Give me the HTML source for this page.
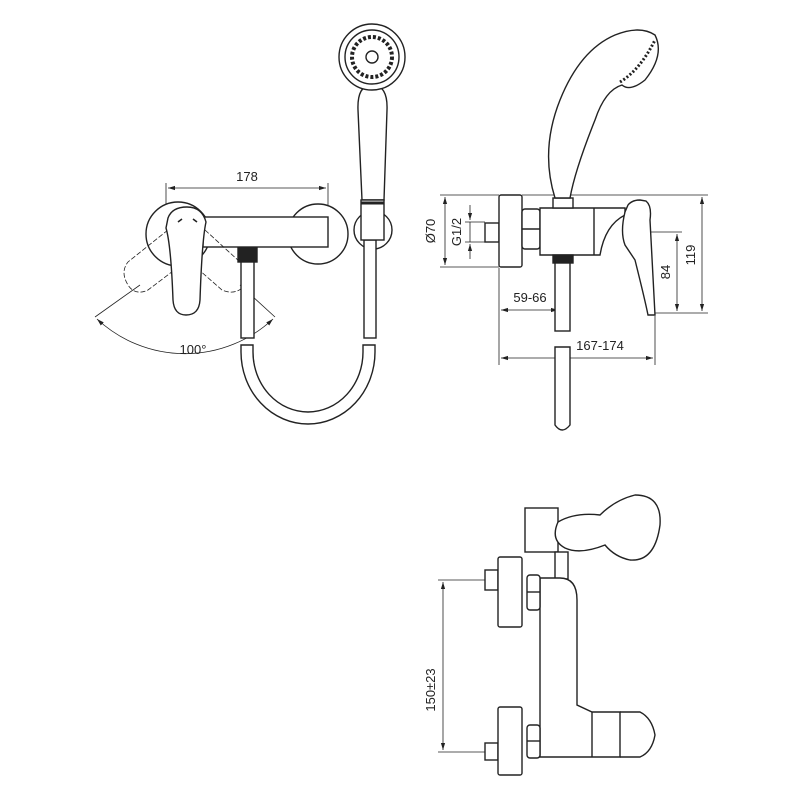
<!DOCTYPE html>
<html><head><meta charset="utf-8"><style>
html,body{margin:0;padding:0;background:#fff;}
svg{display:block}
text{font-family:"Liberation Sans",sans-serif;font-size:13px;fill:#222}
</style></head><body>
<svg width="800" height="800" viewBox="0 0 800 800" xmlns="http://www.w3.org/2000/svg">
<defs>
<marker id="a" viewBox="0 0 10 10" refX="10" refY="5" markerWidth="9" markerHeight="9" orient="auto-start-reverse"><path d="M0,2 L10,5 L0,8 Z" fill="#222"/></marker>
</defs>
<g fill="none" stroke="#222" stroke-width="1.4">
<!-- FRONT VIEW -->
<line x1="166" y1="183" x2="166" y2="215" stroke-width="0.8"/>
<line x1="328" y1="183" x2="328" y2="215" stroke-width="0.8"/>
<line x1="168" y1="188" x2="326" y2="188" stroke-width="0.8" marker-start="url(#a)" marker-end="url(#a)"/>
<circle cx="178" cy="234" r="32" fill="#fff"/>
<circle cx="318" cy="234" r="30" fill="#fff"/>
<rect x="203" y="217" width="125" height="30" fill="#fff"/>
<g stroke-dasharray="5,2" stroke-width="0.8">
<path d="M168,230 L128,262 Q120,272 128,285 Q135,296 148,290 L185,262"/>
<path d="M205,230 L240,262 Q250,272 245,285 Q236,296 222,290 L190,262"/>
</g>
<path d="M168,218 Q172,207 187,207 Q202,207 206,222 Q202,240 200,300 Q199,315 186,315 Q174,315 173,300 Q171,245 166,228 Z" fill="#fff"/>
<path d="M178,222 l4,-3 M193,219 l4,3" stroke-width="1.6"/>
<line x1="95" y1="317" x2="140" y2="285" stroke-width="0.8"/>
<line x1="275" y1="317" x2="240" y2="285" stroke-width="0.8"/>
<path d="M97,319 A129,129 0 0 0 273,319" stroke-width="0.8" marker-start="url(#a)" marker-end="url(#a)"/>
<rect x="238" y="248" width="19" height="14" fill="#222"/>
<rect x="241" y="262" width="13" height="76" fill="#fff"/>
<path d="M241,345 L241,352 A67,72 0 0 0 375,352 L375,345 L363,345 L363,352 A55,60 0 0 1 253,352 L253,345 Z"/>
<circle cx="373" cy="230" r="19"/>
<rect x="364" y="240" width="12" height="98" fill="#fff"/>
<path d="M362,200 L358,110 Q357,85 372,85 Q388,85 387,110 L384,200 Z" fill="#fff"/>
<rect x="361" y="200" width="23" height="40" fill="#fff"/>
<line x1="361" y1="203" x2="384" y2="203" stroke-width="3"/>
<circle cx="372" cy="57" r="33" fill="#fff"/>
<circle cx="372" cy="57" r="27"/>
<circle cx="372" cy="57" r="20" stroke-dasharray="3,2" stroke-width="4"/>
<circle cx="372" cy="57" r="6"/>
<!-- SIDE VIEW -->
<g stroke-width="0.8">
<line x1="440" y1="195" x2="499" y2="195"/>
<line x1="522" y1="195" x2="708" y2="195"/>
<line x1="440" y1="267" x2="499" y2="267"/>
<line x1="445" y1="197" x2="445" y2="265" marker-start="url(#a)" marker-end="url(#a)"/>
<line x1="465" y1="222" x2="485" y2="222"/>
<line x1="465" y1="242" x2="485" y2="242"/>
<line x1="470" y1="205" x2="470" y2="220" marker-end="url(#a)"/>
<line x1="470" y1="259" x2="470" y2="244" marker-end="url(#a)"/>
<line x1="470" y1="222" x2="470" y2="242"/>
<line x1="702" y1="197" x2="702" y2="311" marker-start="url(#a)" marker-end="url(#a)"/>
<line x1="650" y1="232" x2="682" y2="232"/>
<line x1="652" y1="313" x2="708" y2="313"/>
<line x1="677" y1="234" x2="677" y2="311" marker-start="url(#a)" marker-end="url(#a)"/>
<line x1="499" y1="268" x2="499" y2="365"/>
<line x1="655" y1="316" x2="655" y2="365"/>
<line x1="501" y1="310" x2="558" y2="310" marker-start="url(#a)" marker-end="url(#a)"/>
<line x1="501" y1="358" x2="653" y2="358" marker-start="url(#a)" marker-end="url(#a)"/>
</g>
<rect x="485" y="223" width="14" height="19" fill="#fff"/>
<rect x="499" y="195" width="23" height="72" rx="2" fill="#fff"/>
<rect x="522" y="209" width="18" height="40" rx="3" fill="#fff"/>
<line x1="522" y1="229" x2="540" y2="229"/>
<path d="M540,208 L625,208 L625,215 Q605,225 600,255 L540,255 Z" fill="#fff"/>
<line x1="594" y1="208" x2="594" y2="255"/>
<path d="M625,212 L628,205 Q632,200 640,200 L646,201 Q652,206 650,220 L655,315 L648,315 Q645,300 635,260 L625,245 Q620,232 625,212 Z" fill="#fff"/>
<rect x="553" y="255" width="20" height="8" fill="#222"/>
<rect x="555" y="263" width="15" height="68" fill="#fff"/>
<path d="M555,347 L570,347 L570,425 Q562,435 555,425 Z" fill="#fff"/>
<rect x="553" y="198" width="20" height="10" fill="#fff"/>
<path d="M555,198 Q540,150 560,100 Q580,50 615,35 Q640,25 655,35 Q665,55 645,80 Q630,92 622,85 Q605,90 595,120 Q575,170 570,198 Z" fill="#fff"/>
<path d="M620,82 Q640,70 655,40" stroke-width="3" stroke-dasharray="2,2"/>
<!-- BOTTOM VIEW -->
<g stroke-width="0.8">
<line x1="438" y1="580" x2="485" y2="580"/>
<line x1="438" y1="752" x2="485" y2="752"/>
<line x1="443" y1="582" x2="443" y2="750" marker-start="url(#a)" marker-end="url(#a)"/>
</g>
<rect x="525" y="508" width="33" height="44" fill="#fff"/>
<rect x="555" y="552" width="13" height="27" fill="#fff"/>
<path d="M558,522 Q575,512 600,515 Q615,500 635,495 Q662,495 660,525 Q655,562 630,560 Q615,557 605,545 Q580,555 565,548 Q550,540 558,522 Z" fill="#fff"/>
<path d="M540,578 L560,578 Q577,578 577,600 L577,705 L592,712 L620,712 L620,757 L540,757 Z" fill="#fff"/>
<path d="M620,712 L640,712 Q652,718 655,735 Q652,752 640,757 L620,757"/>
<line x1="592" y1="712" x2="592" y2="757"/>
<rect x="527" y="575" width="13" height="35" rx="3" fill="#fff"/>
<line x1="527" y1="592" x2="540" y2="592"/>
<rect x="527" y="725" width="13" height="33" rx="3" fill="#fff"/>
<line x1="527" y1="741" x2="540" y2="741"/>
<rect x="485" y="570" width="13" height="20" fill="#fff"/>
<rect x="498" y="557" width="24" height="70" rx="2" fill="#fff"/>
<rect x="485" y="743" width="13" height="17" fill="#fff"/>
<rect x="498" y="707" width="24" height="68" rx="2" fill="#fff"/>
</g>
<text x="247" y="181" text-anchor="middle">178</text>
<text x="193" y="354" text-anchor="middle">100°</text>
<text x="530" y="302" text-anchor="middle">59-66</text>
<text x="600" y="350" text-anchor="middle">167-174</text>
<text transform="translate(435,231) rotate(-90)" text-anchor="middle">Ø70</text>
<text transform="translate(461,232) rotate(-90)" text-anchor="middle">G1/2</text>
<text transform="translate(670,272) rotate(-90)" text-anchor="middle">84</text>
<text transform="translate(695,255) rotate(-90)" text-anchor="middle">119</text>
<text transform="translate(435,690) rotate(-90)" text-anchor="middle">150±23</text>
</svg>
</body></html>
